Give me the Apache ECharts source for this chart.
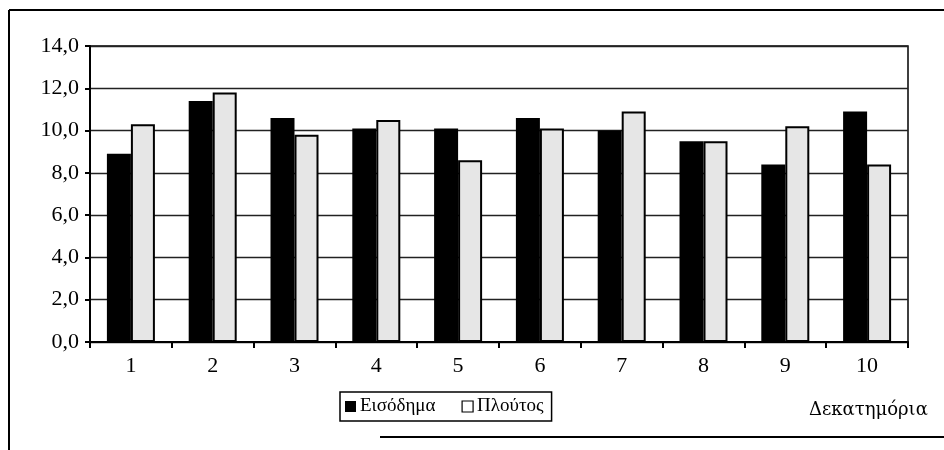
<!DOCTYPE html>
<html>
<head>
<meta charset="utf-8">
<script src="https://cdn.jsdelivr.net/npm/echarts@6/dist/echarts.min.js"></script>
<style>
html,body{margin:0;padding:0;background:#fff;}
#chart{width:944px;height:450px;}
</style>
</head>
<body>
<div id="chart"></div>
<script>
const categories = ['1','2','3','4','5','6','7','8','9','10'];
const incomeValues = [8.9, 11.4, 10.6, 10.1, 10.1, 10.6, 10.0, 9.5, 8.4, 10.9];
const wealthValues = [10.3, 11.8, 9.8, 10.5, 8.6, 10.1, 10.9, 9.5, 10.2, 8.4];
const yTicks = [0, 2, 4, 6, 8, 10, 12, 14];
const seriesNames = ['Εισόδημα', 'Πλούτος'];
const axisTitle = 'Δεκατημόρια';

const FONT = '"Liberation Serif", "DejaVu Serif", serif';
const chart = echarts.init(document.getElementById('chart'));
chart.setOption({
  animation: false,
  backgroundColor: '#fff',
  grid: {left: 90, right: 36, top: 46, bottom: 108, show: true, borderColor: '#000', borderWidth: 1.5},
  title: {
    text: axisTitle, left: 804, top: 396,
    textStyle: {fontFamily: '"DejaVu Serif", serif', fontSize: 18, fontWeight: 'normal', color: '#000'}
  },
  legend: {
    left: 340, top: 392,
    padding: [5, 8, 5, 5],
    borderColor: '#000', borderWidth: 1.5,
    itemWidth: 11, itemHeight: 11, itemGap: 26,
    icon: 'rect',
    textStyle: {fontFamily: FONT, fontSize: 19, color: '#000', padding: [0, 0, 0, -1]},
    data: [
      {name: seriesNames[0], itemStyle: {color: '#000', borderWidth: 0}},
      {name: seriesNames[1], itemStyle: {color: '#fff', borderColor: '#000', borderWidth: 1.2}}
    ]
  },
  xAxis: {
    type: 'category', data: categories,
    axisLine: {lineStyle: {color: '#000', width: 2}},
    axisTick: {show: true, alignWithLabel: false, length: 6, lineStyle: {color: '#000', width: 2}},
    axisLabel: {fontFamily: FONT, fontSize: 22, color: '#000', margin: 13}
  },
  yAxis: {
    type: 'value', min: yTicks[0], max: yTicks[yTicks.length - 1], interval: 2,
    axisLine: {show: true, lineStyle: {color: '#000', width: 2}},
    axisTick: {show: true, length: 5, lineStyle: {color: '#000', width: 2}},
    axisLabel: {fontFamily: FONT, fontSize: 22, color: '#000', margin: 11,
      formatter: v => v.toFixed(1).replace('.', ',')},
    splitLine: {lineStyle: {color: '#222', width: 1.3}}
  },
  series: [
    {name: seriesNames[0], type: 'bar', data: incomeValues, barWidth: 24, barGap: '0%',
     itemStyle: {color: '#000'}},
    {name: seriesNames[1], type: 'bar', data: wealthValues, barWidth: 24,
     itemStyle: {color: '#e6e6e6', borderColor: '#000', borderWidth: 2}}
  ],
  graphic: [
    {type: 'line', shape: {x1: 9, y1: 10, x2: 944, y2: 10}, style: {stroke: '#000', lineWidth: 2}},
    {type: 'line', shape: {x1: 9, y1: 10, x2: 9, y2: 450}, style: {stroke: '#000', lineWidth: 2}},
    {type: 'line', shape: {x1: 380, y1: 437, x2: 944, y2: 437}, style: {stroke: '#000', lineWidth: 2}}
  ]
});
</script>
</body>
</html>
